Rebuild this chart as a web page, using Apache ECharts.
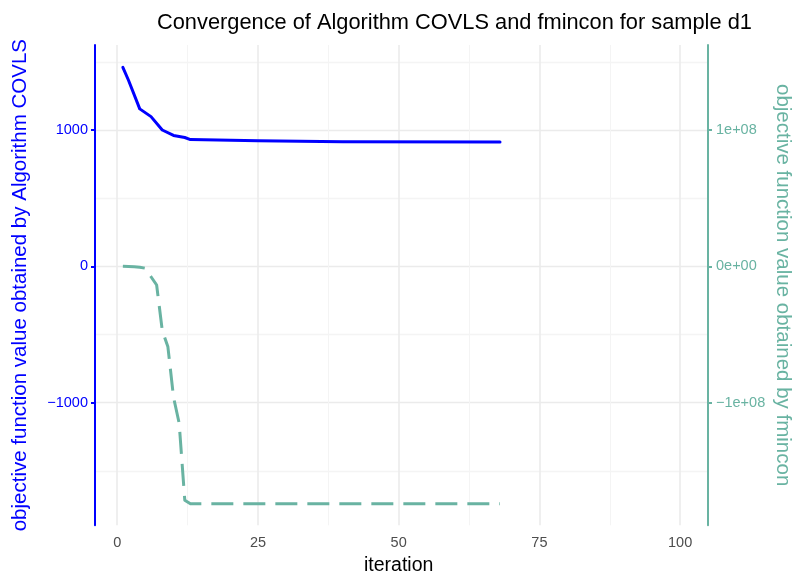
<!DOCTYPE html>
<html>
<head>
<meta charset="utf-8">
<script src="https://cdn.jsdelivr.net/npm/echarts@6/dist/echarts.min.js"></script>
<style>
  html, body { margin: 0; padding: 0; background: #ffffff; }
  #chart { width: 794px; height: 574px; }
</style>
</head>
<body>
<div id="chart"></div>
<script>
// Objective value per iteration for Algorithm COVLS (left axis)
const covlsIter  = [1, 2, 4, 6, 8, 10, 12, 13, 25, 40, 68];
const covlsValue = [1460, 1365, 1155, 1098, 1000, 960, 945, 930, 921, 914, 912];

// Objective value per iteration for fmincon (right axis)
const fminconIter  = [1, 2, 3, 4, 5, 6, 7, 8, 9, 10, 11, 12, 13, 68];
const fminconValue = [0, -1e5, -3e5, -6e5, -1.4e6, -7.6e6, -1.37e7, -4.7e7, -5.9e7,
                      -9.6e7, -1.15e8, -1.715e8, -1.741e8, -1.741e8];

// Tick labels
const xTicks      = [0, 25, 50, 75, 100];
const leftTicks   = [-1000, 0, 1000];
const rightTicks  = [-1e8, 0, 1e8];

// The right axis shows the same panel rescaled by this factor
const rightScale = 1e5;

// Panel extents (data units), padded like a ggplot panel
const xMin = -3.95, xMax = 104.95;
const yMin = -1899.1, yMax = 1623.4;

// Panel placement in pixels
const W = 794, H = 574;
const pL = 95, pR = 708, pT = 45, pB = 525.3;

const fx = v => pL + (v - xMin) / (xMax - xMin) * (pR - pL);
const fy = v => pT + (yMax - v) / (yMax - yMin) * (pB - pT);

const BLUE = '#0000ff';
const TEAL = '#69b3a2';
const GRID_MAJOR = '#ebebeb';
const GRID_MINOR = '#f4f4f4';
const FONT = '"Liberation Sans", Arial, Helvetica, sans-serif';

const minus = s => s.replace('-', '\u2212');
const sci = v => {
  if (v === 0) return '0e+00';
  const e = Math.floor(Math.log10(Math.abs(v)));
  const m = Math.round(v / Math.pow(10, e));
  return minus(m + 'e+' + String(e).padStart(2, '0'));
};

const chart = echarts.init(document.getElementById('chart'), null, { renderer: 'canvas' });

const gridBox = (left, right, top, bottom) => ({
  left, right: W - right, top, bottom: H - bottom,
  containLabel: false, outerBoundsMode: 'none'
});

const option = {
  backgroundColor: '#ffffff',
  animation: false,
  title: {
    text: 'Convergence of Algorithm COVLS and fmincon for sample d1',
    left: 152, top: 7,
    textStyle: { fontFamily: FONT, fontSize: 21.8, fontWeight: 'normal', color: '#000000' }
  },
  grid: [
    gridBox(pL, pR, pT, pB),                       // 0: data panel
    gridBox(fx(0), fx(100), pT, pB),               // 1: vertical grid lines and x labels
    gridBox(pL, pR, fy(1000), fy(-1000)),          // 2: left/right tick labels
    gridBox(pL, pR, fy(1500), fy(-1500))           // 3: horizontal grid lines
  ],
  xAxis: [
    { gridIndex: 0, type: 'value', min: xMin, max: xMax, show: false },
    {
      gridIndex: 1, type: 'value', min: xTicks[0], max: xTicks[xTicks.length - 1], interval: 25,
      axisLine: { show: false }, axisTick: { show: false },
      axisLabel: { color: '#4d4d4d', fontFamily: FONT, fontSize: 14.5, margin: 10 },
      splitLine: { show: true, lineStyle: { color: GRID_MAJOR, width: 1.6 } },
      minorTick: { show: false, splitNumber: 2 },
      minorSplitLine: { show: true, lineStyle: { color: GRID_MINOR, width: 1 } },
      name: 'iteration', nameLocation: 'middle', nameGap: 29,
      nameTextStyle: { color: '#000000', fontFamily: FONT, fontSize: 19.5 }
    },
    { gridIndex: 2, type: 'value', min: xMin, max: xMax, show: false },
    { gridIndex: 3, type: 'value', min: xMin, max: xMax, show: false }
  ],
  yAxis: [
    // 0: left axis line and title
    {
      gridIndex: 0, type: 'value', min: yMin, max: yMax, position: 'left',
      axisLine: { show: true, onZero: false, lineStyle: { color: BLUE, width: 2 } },
      axisTick: { show: false }, axisLabel: { show: false }, splitLine: { show: false },
      name: 'objective function value obtained by Algorithm COVLS',
      nameLocation: 'middle', nameGap: 64,
      nameTextStyle: { color: BLUE, fontFamily: FONT, fontSize: 20.5 }
    },
    // 1: right axis line and title
    {
      gridIndex: 0, type: 'value', min: yMin * rightScale, max: yMax * rightScale, position: 'right',
      axisLine: { show: true, onZero: false, lineStyle: { color: TEAL, width: 2 } },
      axisTick: { show: false }, axisLabel: { show: false }, splitLine: { show: false },
      name: 'objective function value obtained by fmincon',
      nameLocation: 'middle', nameGap: 64, nameRotate: -90,
      nameTextStyle: { color: TEAL, fontFamily: FONT, fontSize: 20.5 }
    },
    // 2: hidden y for vertical-gridline grid
    { gridIndex: 1, type: 'value', min: yMin, max: yMax, show: false },
    // 3: left tick labels
    {
      gridIndex: 2, type: 'value', min: leftTicks[0], max: leftTicks[leftTicks.length - 1],
      interval: 1000, position: 'left',
      axisLine: { show: false, onZero: false },
      axisTick: { show: true, length: 4, lineStyle: { color: BLUE, width: 2 } },
      axisLabel: { color: BLUE, fontFamily: FONT, fontSize: 14.5, margin: 7,
                   formatter: v => minus(String(v)) },
      splitLine: { show: false }
    },
    // 4: right tick labels
    {
      gridIndex: 2, type: 'value', min: rightTicks[0], max: rightTicks[rightTicks.length - 1],
      interval: 1e8, position: 'right',
      axisLine: { show: false, onZero: false },
      axisTick: { show: true, length: 4, lineStyle: { color: TEAL, width: 2 } },
      axisLabel: { color: TEAL, fontFamily: FONT, fontSize: 14.5, margin: 8, formatter: sci },
      splitLine: { show: false }
    },
    // 5: horizontal grid lines, major at multiples of 1000, minor between
    {
      gridIndex: 3, type: 'value', min: -1500, max: 1500, interval: 500,
      axisLine: { show: false }, axisTick: { show: false }, axisLabel: { show: false },
      splitLine: {
        show: true,
        lineStyle: {
          color: [GRID_MINOR, GRID_MAJOR, GRID_MINOR, GRID_MAJOR, GRID_MINOR, GRID_MAJOR, GRID_MINOR],
          width: 1.3
        }
      }
    }
  ],
  series: [
    {
      name: 'Algorithm COVLS', type: 'line', xAxisIndex: 0, yAxisIndex: 0,
      data: covlsIter.map((x, i) => [x, covlsValue[i]]),
      symbol: 'none', clip: false, z: 5,
      lineStyle: { color: BLUE, width: 3, join: 'round', cap: 'round' }
    },
    {
      name: 'fmincon', type: 'line', xAxisIndex: 0, yAxisIndex: 1,
      data: fminconIter.map((x, i) => [x, fminconValue[i]]),
      symbol: 'none', clip: false, z: 4,
      lineStyle: { color: TEAL, width: 3, type: [22, 10], cap: 'butt', join: 'round' }
    }
  ]
};

chart.setOption(option);
</script>
</body>
</html>
